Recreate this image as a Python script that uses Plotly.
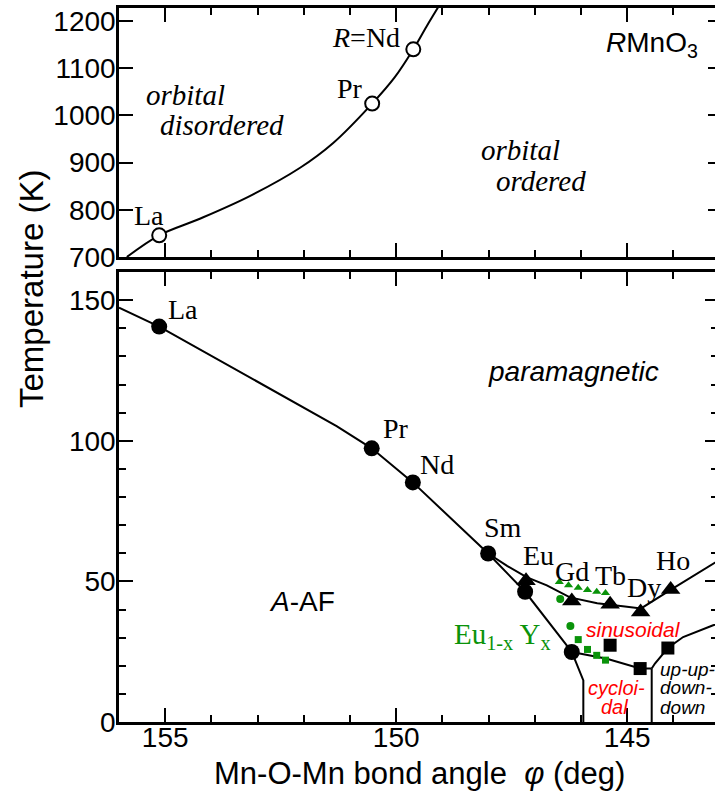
import plotly.graph_objects as go

# ---------------- data ----------------
# Top panel (orbital order-disorder transition)
top_angle = [155.13, 150.52, 149.63]
top_T = [746, 1025, 1140]
top_curve_angle = [155.83, 155.13, 154.25, 153.17, 152.08, 151.37, 150.52, 150.03, 149.63, 149.34, 149.0]
top_curve_T = [700, 746, 781, 829, 889, 941, 1025, 1081, 1140, 1189, 1244]

# Bottom panel (magnetic phase diagram)
circle_angle = [155.13, 150.53, 149.64, 148.01, 147.21, 146.20]
circle_T = [140.6, 97.3, 85.2, 59.9, 46.3, 24.9]

triangle_angle = [147.19, 146.20, 145.37, 144.71, 144.06]
triangle_T = [50.2, 43.0, 41.9, 39.1, 47.1]

square_angle = [145.37, 144.72, 144.12]
square_T = [27.3, 19.0, 26.3]

green_tri_angle = [146.47, 146.27, 146.06, 145.86, 145.66, 145.47]
green_tri_T = [49.8, 48.6, 47.7, 46.9, 46.3, 45.9]
green_circ_angle = [146.45, 146.23]
green_circ_T = [43.7, 34.1]
green_sq_angle = [146.06, 145.86, 145.66, 145.47]
green_sq_T = [29.3, 25.8, 23.7, 22.0]

# phase boundaries
bound_main_angle = [156.0, 155.13, 151.29, 150.53, 149.64, 148.01]
bound_main_T = [147.3, 140.6, 105.2, 97.3, 85.2, 59.9]
bound_upper_angle = [148.01, 147.60, 147.18, 146.74, 146.24, 145.65, 145.05, 144.70, 144.07, 143.09, 142.9]
bound_upper_T = [59.9, 55.5, 51.5, 48.6, 44.3, 42.2, 41.1, 40.4, 46.9, 56.8, 58.7]
bound_lower_angle = [148.01, 147.21, 146.20]
bound_lower_T = [59.9, 46.3, 24.9]
bound_cyc_angle = [146.20, 145.95, 145.95]
bound_cyc_T = [24.9, 14.8, 0]
bound_sin_angle = [146.20, 145.44, 144.72, 144.47]
bound_sin_T = [24.9, 22.5, 19.0, 19.0]
bound_uuddv_angle = [144.47, 144.47]
bound_uuddv_T = [19.0, 0]
bound_uudd_angle = [144.47, 144.40, 144.12, 143.79, 143.14, 142.9]
bound_uudd_T = [19.0, 20.8, 26.3, 30.2, 34.4, 35.6]

# tick labels
x_ticks = [155, 150, 145]
y_ticks_bottom = [0, 50, 100, 150]

# ---------------- style ----------------
SANS = "Liberation Sans, Arial, Helvetica, sans-serif"
SERIF = "Liberation Serif, Times New Roman, serif"
GREEN = "#0a930a"
RED = "#ff0000"
W, H = 715, 794
ML, MR, MT, MB = 119, 0, 8, 72
PH = H - MT - MB
BOT_DOM = [0, 450 / PH]
TOP_DOM = [(PH - 249) / PH, 1]
XR = [156, 143.1]
YR_BOT = [0, 160]
YR_TOP = [700, 1227.5]

fig = go.Figure()

def line(xs, ys, xa="x", ya="y", shape="linear"):
    fig.add_trace(go.Scatter(x=xs, y=ys, mode="lines", xaxis=xa, yaxis=ya,
                             line=dict(color="black", width=2, shape=shape), hoverinfo="skip",
                             showlegend=False))

# top panel
line(top_curve_angle, top_curve_T, "x2", "y2", shape="spline")
fig.add_trace(go.Scatter(x=top_angle, y=top_T, mode="markers", xaxis="x2", yaxis="y2",
                         marker=dict(symbol="circle", size=14, color="white",
                                     line=dict(color="black", width=2)), showlegend=False))

# bottom panel boundaries
for xs, ys in [(bound_main_angle, bound_main_T), (bound_upper_angle, bound_upper_T),
               (bound_lower_angle, bound_lower_T), (bound_cyc_angle, bound_cyc_T),
               (bound_sin_angle, bound_sin_T), (bound_uuddv_angle, bound_uuddv_T),
               (bound_uudd_angle, bound_uudd_T)]:
    line(xs, ys)

fig.add_trace(go.Scatter(x=green_tri_angle, y=green_tri_T, mode="markers",
                         marker=dict(symbol="triangle-up", size=8, color=GREEN), showlegend=False))
fig.add_trace(go.Scatter(x=green_circ_angle, y=green_circ_T, mode="markers",
                         marker=dict(symbol="circle", size=8, color=GREEN), showlegend=False))
fig.add_trace(go.Scatter(x=green_sq_angle, y=green_sq_T, mode="markers",
                         marker=dict(symbol="square", size=7, color=GREEN), showlegend=False))
fig.add_trace(go.Scatter(x=circle_angle, y=circle_T, mode="markers",
                         marker=dict(symbol="circle", size=16, color="black"), showlegend=False))
fig.add_trace(go.Scatter(x=triangle_angle, y=triangle_T, mode="markers",
                         marker=dict(symbol="triangle-up", size=17, color="black"), showlegend=False))
fig.add_trace(go.Scatter(x=square_angle, y=square_T, mode="markers",
                         marker=dict(symbol="square", size=13, color="black"), showlegend=False))

# ---------------- axes ----------------
tickfont = dict(family=SANS, size=28, color="black")
common_x = dict(range=XR, showgrid=False, zeroline=False, showline=True, linecolor="black",
                linewidth=2.5, mirror="ticks", ticks="inside", ticklen=14, tickwidth=2,
                tickcolor="black", tickvals=x_ticks,
                minor=dict(dtick=1, ticks="inside", ticklen=7, tickwidth=2, tickcolor="black"))

fig.update_layout(
    width=W, height=H, margin=dict(l=ML, r=MR, t=MT, b=MB),
    paper_bgcolor="white", plot_bgcolor="white", showlegend=False,
    xaxis=dict(common_x, anchor="y", domain=[0, 1], tickfont=tickfont, ticklabelstandoff=-11),
    xaxis2=dict(common_x, anchor="y2", domain=[0, 1], matches="x", showticklabels=False),
    yaxis=dict(range=YR_BOT, domain=BOT_DOM, anchor="x", showgrid=False, zeroline=False,
               showline=True, linecolor="black", linewidth=2.5, ticks="inside", ticklen=14,
               tickwidth=2, tickcolor="black", tickvals=y_ticks_bottom, tickfont=tickfont,
               ticklabelstandoff=-5,
               minor=dict(dtick=10, ticks="inside", ticklen=7, tickwidth=2, tickcolor="black")),
    yaxis2=dict(range=YR_TOP, domain=TOP_DOM, anchor="x2", showgrid=False, zeroline=False,
                showline=True, linecolor="black", linewidth=2.5, ticks="inside", ticklen=14,
                tickwidth=2, tickcolor="black", dtick=100, tickfont=tickfont,
                ticklabelstandoff=-5),
    yaxis3=dict(range=YR_BOT, overlaying="y", side="right", anchor="x", showgrid=False,
                zeroline=False, showline=False, ticks="inside", ticklen=10, tickwidth=2,
                tickcolor="black", tickvals=y_ticks_bottom, showticklabels=False,
                minor=dict(dtick=10, ticks="inside", ticklen=4, tickwidth=2, tickcolor="black")),
    yaxis4=dict(range=YR_TOP, overlaying="y2", side="right", anchor="x2", showgrid=False,
                zeroline=False, showline=False, ticks="inside", ticklen=7, tickwidth=2,
                tickcolor="black", dtick=100, showticklabels=False),
)

# invisible traces so the overlay (right-side tick) axes render
fig.add_trace(go.Scatter(x=[150], y=[50], yaxis="y3", mode="markers",
                         marker=dict(opacity=0), hoverinfo="skip", showlegend=False))
fig.add_trace(go.Scatter(x=[150], y=[900], xaxis="x2", yaxis="y4", mode="markers",
                         marker=dict(opacity=0), hoverinfo="skip", showlegend=False))

# ---------------- text ----------------
def ann(text, x, y, xref="x", yref="y", size=28, family=SERIF, color="black", xanchor="center",
        yanchor="middle", angle=0):
    fig.add_annotation(text=text, x=x, y=y, xref=xref, yref=yref, showarrow=False,
                       font=dict(family=family, size=size, color=color), xanchor=xanchor,
                       yanchor=yanchor, textangle=angle, borderpad=0)

# top panel labels
ann("La", 155.34, 788, "x2", "y2")
ann("Pr", 151.01, 1057, "x2", "y2")
ann("<i>R</i>=Nd", 150.66, 1165, "x2", "y2")
ann("<i>orbital</i>", 154.56, 1043, "x2", "y2", size=29)
ann("<i>disordered</i>", 153.77, 979, "x2", "y2", size=29)
ann("<i>orbital</i>", 147.32, 926, "x2", "y2", size=29)
ann("<i>ordered</i>", 146.87, 862, "x2", "y2", size=29)
ann("<i>R</i>MnO<sub>3</sub>", 145.48, 1150, "x2", "y2", size=28, family=SANS, xanchor="left")

# bottom panel labels
for t, x, y in [("La", 154.61, 146.5), ("Pr", 150.01, 104.4), ("Nd", 149.11, 91.7),
                ("Sm", 147.69, 69.3), ("Eu", 146.92, 59.3), ("Gd", 146.19, 53.4),
                ("Tb", 145.37, 52.2), ("Dy", 144.64, 47.8), ("Ho", 144.0, 57.5)]:
    ann(t, x, y)
ann("<i>paramagnetic</i>", 146.16, 124.6, size=28, family=SANS)
ann("<i>A</i>-AF", 152.03, 42.7, size=28, family=SANS)
ann("Eu<sub>1-x</sub> Y<sub>x</sub>", 147.70, 30.5, size=29, color=GREEN)
ann("<i>sinusoidal</i>", 144.87, 32.9, size=21, family=SANS, color=RED)
ann("<i>cycloi-</i>", 145.23, 12.2, size=20, family=SANS, color=RED)
ann("<i>dal</i>", 145.27, 5.5, size=20, family=SANS, color=RED)
ann("<i>up-up-</i>", 144.31, 18.6, size=19, family=SANS, xanchor="left")
ann("<i>down-</i>", 144.31, 12.1, size=19, family=SANS, xanchor="left")
ann("<i>down</i>", 144.31, 5.3, size=19, family=SANS, xanchor="left")

# axis titles (pixel positions -> paper coords)
def px2paper(px, py):
    return (px - ML) / (W - ML - MR), (H - MB - py) / PH

tx, ty = px2paper(419, 773)
ann("Mn-O-Mn bond angle  <i>φ</i> (deg)", tx, ty, "paper", "paper", size=31, family=SANS)
tx, ty = px2paper(31, 289)
ann("Temperature (K)", tx, ty, "paper", "paper", size=33, family=SANS, angle=-90)

fig.write_html("out.html", config={"displayModeBar": False},
               post_script="document.body.style.margin='0px';")
